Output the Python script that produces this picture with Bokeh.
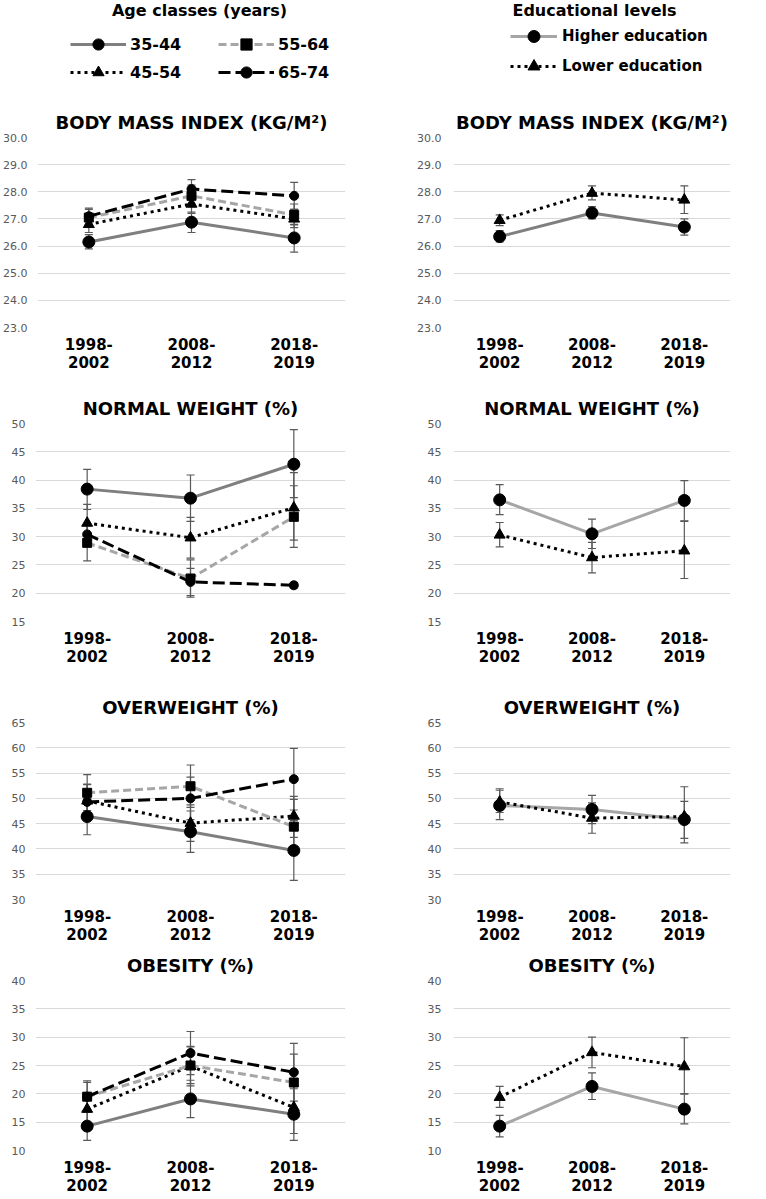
from bokeh.plotting import figure
from bokeh.models import (ColumnDataSource, FactorRange, Range1d, Whisker, TeeHead,
                          FixedTicker, NumeralTickFormatter, Legend, LegendItem, Label)
from bokeh.layouts import column, row
from bokeh.embed import file_html
from bokeh.resources import INLINE

# ---------------- data ----------------
periods = ["1998-\n2002", "2008-\n2012", "2018-\n2019"]
age_classes = ["35-44", "45-54", "55-64", "65-74"]
edu_levels = ["Higher education", "Lower education"]

bmi_ticks = [23, 24, 25, 26, 27, 28, 29, 30]
nw_ticks = [15, 20, 25, 30, 35, 40, 45, 50]
ow_ticks = [30, 35, 40, 45, 50, 55, 60, 65]
ob_ticks = [10, 15, 20, 25, 30, 35, 40]

# Body mass index by age class: value, lower CI, upper CI
bmi_35_44 = [26.15, 26.88, 26.30]
bmi_35_44_lo = [25.90, 26.50, 25.78]
bmi_35_44_hi = [26.42, 27.25, 26.80]
bmi_45_54 = [26.80, 27.55, 27.00]
bmi_45_54_lo = [26.50, 27.20, 26.68]
bmi_45_54_hi = [27.10, 27.90, 27.35]
bmi_55_64 = [27.05, 27.85, 27.15]
bmi_55_64_lo = [26.75, 27.45, 26.78]
bmi_55_64_hi = [27.35, 28.25, 27.55]
bmi_65_74 = [27.10, 28.10, 27.85]
bmi_65_74_lo = [26.80, 27.75, 27.35]
bmi_65_74_hi = [27.40, 28.45, 28.35]

# Body mass index by education
bmi_high = [26.35, 27.22, 26.70]
bmi_high_lo = [26.15, 27.00, 26.40]
bmi_high_hi = [26.57, 27.45, 27.00]
bmi_low = [26.95, 27.95, 27.70]
bmi_low_lo = [26.75, 27.70, 27.20]
bmi_low_hi = [27.15, 28.22, 28.22]

# Normal weight (%) by age class
nw_35_44 = [38.4, 36.8, 42.8]
nw_35_44_lo = [34.8, 32.7, 36.9]
nw_35_44_hi = [41.9, 40.9, 48.9]
nw_45_54 = [32.4, 29.8, 35.1]
nw_45_54_lo = [29.0, 26.2, 29.4]
nw_45_54_hi = [35.7, 33.4, 41.3]
nw_55_64 = [28.9, 22.6, 33.5]
nw_55_64_lo = [25.7, 19.3, 28.1]
nw_55_64_hi = [32.1, 25.9, 39.0]
nw_65_74 = [30.4, 22.0, 21.4]
nw_65_74_lo = [28.5, 19.6, 20.9]
nw_65_74_hi = [32.3, 24.4, 21.9]

# Normal weight (%) by education
nw_high = [36.5, 30.5, 36.4]
nw_high_lo = [33.9, 27.9, 32.8]
nw_high_hi = [39.2, 33.1, 39.9]
nw_low = [30.3, 26.3, 27.5]
nw_low_lo = [28.2, 23.6, 22.6]
nw_low_hi = [32.5, 29.0, 32.7]

# Overweight (%) by age class
ow_35_44 = [46.4, 43.4, 39.7]
ow_35_44_lo = [42.8, 39.3, 33.8]
ow_35_44_hi = [50.0, 47.5, 45.6]
ow_45_54 = [49.5, 45.1, 46.5]
ow_45_54_lo = [46.3, 41.5, 42.3]
ow_45_54_hi = [52.7, 48.7, 50.4]
ow_55_64 = [51.1, 52.4, 44.4]
ow_55_64_lo = [47.6, 48.2, 39.0]
ow_55_64_hi = [54.7, 56.6, 49.8]
ow_65_74 = [49.3, 50.0, 53.8]
ow_65_74_lo = [45.8, 45.8, 47.7]
ow_65_74_hi = [52.8, 54.2, 59.9]

# Overweight (%) by education
ow_high = [48.6, 47.8, 45.8]
ow_high_lo = [45.8, 45.0, 41.2]
ow_high_hi = [51.6, 50.6, 52.3]
ow_low = [49.3, 46.1, 46.4]
ow_low_lo = [47.2, 43.1, 42.1]
ow_low_hi = [51.9, 49.1, 49.4]

# Obesity (%) by age class
ob_35_44 = [14.3, 19.1, 16.4]
ob_35_44_lo = [11.8, 15.8, 11.8]
ob_35_44_hi = [16.8, 22.4, 20.9]
ob_45_54 = [17.3, 24.9, 17.6]
ob_45_54_lo = [14.9, 21.4, 13.0]
ob_45_54_hi = [19.8, 28.4, 22.2]
ob_55_64 = [19.5, 25.0, 22.0]
ob_55_64_lo = [17.0, 21.8, 17.0]
ob_55_64_hi = [22.0, 28.3, 27.0]
ob_65_74 = [19.5, 27.2, 23.8]
ob_65_74_lo = [16.8, 23.4, 18.7]
ob_65_74_hi = [22.3, 31.0, 28.9]

# Obesity (%) by education
ob_high = [14.3, 21.3, 17.3]
ob_high_lo = [12.4, 19.0, 14.7]
ob_high_hi = [16.2, 23.7, 20.0]
ob_low = [19.4, 27.3, 24.8]
ob_low_lo = [17.6, 24.6, 20.0]
ob_low_hi = [21.3, 30.0, 29.9]

# ---------------- styles ----------------
FONT = "DejaVu Sans"
AGE_STYLE = {
    "35-44": dict(color="#7f7f7f", dash="solid", marker="circle", size=12),
    "45-54": dict(color="#000000", dash="3 4", marker="triangle", size=11),
    "55-64": dict(color="#a6a6a6", dash="8 4", marker="square", size=9),
    "65-74": dict(color="#000000", dash="12 5", marker="circle", size=9),
}
EDU_STYLE = {
    "Higher education": dict(color="#a6a6a6", dash="solid", marker="circle", size=12),
    "Lower education": dict(color="#000000", dash="3 4", marker="triangle", size=11),
}
EDU_STYLE_BMI = dict(EDU_STYLE)
EDU_STYLE_BMI["Higher education"] = dict(EDU_STYLE["Higher education"], color="#7f7f7f")

COL_W = 383
LEFT_GEOM = dict(min_left=35, min_right=38, label_standoff=10)
RIGHT_GEOM = dict(min_left=70, min_right=36, label_standoff=12)
NAN = float("nan")


def panel(title, ticks, fmt, series, styles, geom, top, frame_h, bottom):
    p = figure(x_range=FactorRange(factors=periods),
               y_range=Range1d(ticks[0], ticks[-1]),
               width=COL_W, height=top + frame_h + bottom,
               output_backend="svg", toolbar_location=None, title=title,
               min_border_left=geom["min_left"], min_border_right=geom["min_right"],
               min_border_top=top, min_border_bottom=bottom)
    p.title.text_font = FONT
    p.title.text_font_size = "18px"
    p.title.text_font_style = "bold"
    p.title.align = "center"
    p.title.text_color = "#000000"
    p.title.standoff = 10
    p.outline_line_color = None
    p.xgrid.visible = False
    p.ygrid.grid_line_color = "#d9d9d9"
    p.ygrid.grid_line_width = 1

    p.yaxis.ticker = FixedTicker(ticks=ticks)
    p.yaxis.formatter = NumeralTickFormatter(format=fmt)
    p.yaxis.axis_line_color = None
    p.yaxis.major_tick_line_color = None
    p.yaxis.minor_tick_line_color = None
    p.yaxis.major_tick_out = 0
    p.yaxis.major_label_text_font = FONT
    p.yaxis.major_label_text_font_size = "11px"
    p.yaxis.major_label_text_color = "#595959"
    p.yaxis.major_label_standoff = geom["label_standoff"]

    p.xaxis.axis_line_color = None
    p.xaxis.major_tick_line_color = None
    p.xaxis.minor_tick_line_color = None
    p.xaxis.major_tick_out = 0
    p.xaxis.major_tick_in = 0
    p.xaxis.major_label_text_font = FONT
    p.xaxis.major_label_text_font_size = "15px"
    p.xaxis.major_label_text_font_style = "bold"
    p.xaxis.major_label_text_color = "#000000"
    p.xaxis.major_label_text_line_height = 1.0
    p.xaxis.major_label_standoff = 8

    for name, (vals, lo, hi) in series.items():
        st = styles[name]
        src = ColumnDataSource(dict(x=periods, y=vals, lo=lo, hi=hi))
        w = Whisker(base="x", lower="lo", upper="hi", source=src,
                    line_color="#595959", line_width=1.2,
                    upper_head=TeeHead(size=8, line_color="#595959", line_width=1.2),
                    lower_head=TeeHead(size=8, line_color="#595959", line_width=1.2))
        p.add_layout(w)
        p.line("x", "y", source=src, line_color=st["color"], line_dash=st["dash"],
               line_width=3)
        p.scatter("x", "y", source=src, marker=st["marker"], size=st["size"],
                  fill_color="#000000", line_color="#000000")
    return p


def legend_fig(heading, names, styles, height, heading_x, loc, ncols,
               glyph_w, glyph_h, label_w, font_size, standoff):
    p = figure(width=COL_W, height=height, x_range=Range1d(0, 1), y_range=Range1d(0, 1),
               output_backend="svg", toolbar_location=None,
               x_axis_location=None, y_axis_location=None, min_border=0)
    p.grid.visible = False
    p.outline_line_color = None
    items = []
    for name in names:
        st = styles[name]
        # placeholder renderers (one undrawable NaN point) that only feed the legend
        src = ColumnDataSource(dict(x=[NAN], y=[NAN]))
        r1 = p.line("x", "y", source=src, line_color=st["color"], line_dash=st["dash"],
                    line_width=3)
        r2 = p.scatter("x", "y", source=src, marker=st["marker"],
                       fill_color="#000000", line_color="#000000")
        items.append(LegendItem(label=name, renderers=[r1, r2]))
    leg = Legend(items=items, location=loc, ncols=ncols, orientation="vertical",
                 glyph_width=glyph_w, glyph_height=glyph_h, label_width=label_w,
                 label_height=18, label_standoff=standoff, spacing=0, padding=0, margin=0,
                 border_line_color=None, background_fill_alpha=0,
                 label_text_font=FONT, label_text_font_size=font_size,
                 label_text_font_style="bold", label_text_color="#000000")
    p.add_layout(leg)
    p.add_layout(Label(x=heading_x, y=height, x_units="screen", y_units="screen",
                       text=heading, text_align="center", text_baseline="top",
                       text_font=FONT, text_font_size="16px", text_font_style="bold",
                       text_color="#000000"))
    return p


LEG_H = 100
leg_left = legend_fig("Age classes (years)", age_classes, AGE_STYLE, LEG_H,
                      199, (70, 14), 2, 56, 28, 88, "16px", 4)
leg_right = legend_fig("Educational levels", edu_levels, EDU_STYLE, LEG_H,
                       211, (127, 19), 1, 47, 30, 150, "15px", 5)

rows_spec = [
    ("BODY MASS INDEX (KG/M²)", bmi_ticks, "0.0",
     {"35-44": (bmi_35_44, bmi_35_44_lo, bmi_35_44_hi),
      "45-54": (bmi_45_54, bmi_45_54_lo, bmi_45_54_hi),
      "55-64": (bmi_55_64, bmi_55_64_lo, bmi_55_64_hi),
      "65-74": (bmi_65_74, bmi_65_74_lo, bmi_65_74_hi)},
     {"Higher education": (bmi_high, bmi_high_lo, bmi_high_hi),
      "Lower education": (bmi_low, bmi_low_lo, bmi_low_hi)},
     EDU_STYLE_BMI, 37, 190, 48),
    ("NORMAL WEIGHT (%)", nw_ticks, "0",
     {"35-44": (nw_35_44, nw_35_44_lo, nw_35_44_hi),
      "45-54": (nw_45_54, nw_45_54_lo, nw_45_54_hi),
      "55-64": (nw_55_64, nw_55_64_lo, nw_55_64_hi),
      "65-74": (nw_65_74, nw_65_74_lo, nw_65_74_hi)},
     {"Higher education": (nw_high, nw_high_lo, nw_high_hi),
      "Lower education": (nw_low, nw_low_lo, nw_low_hi)},
     EDU_STYLE, 48, 198, 48),
    ("OVERWEIGHT (%)", ow_ticks, "0",
     {"35-44": (ow_35_44, ow_35_44_lo, ow_35_44_hi),
      "45-54": (ow_45_54, ow_45_54_lo, ow_45_54_hi),
      "55-64": (ow_55_64, ow_55_64_lo, ow_55_64_hi),
      "65-74": (ow_65_74, ow_65_74_lo, ow_65_74_hi)},
     {"Higher education": (ow_high, ow_high_lo, ow_high_hi),
      "Lower education": (ow_low, ow_low_lo, ow_low_hi)},
     EDU_STYLE, 53, 177, 48),
    ("OBESITY (%)", ob_ticks, "0",
     {"35-44": (ob_35_44, ob_35_44_lo, ob_35_44_hi),
      "45-54": (ob_45_54, ob_45_54_lo, ob_45_54_hi),
      "55-64": (ob_55_64, ob_55_64_lo, ob_55_64_hi),
      "65-74": (ob_65_74, ob_65_74_lo, ob_65_74_hi)},
     {"Higher education": (ob_high, ob_high_lo, ob_high_hi),
      "Lower education": (ob_low, ob_low_lo, ob_low_hi)},
     EDU_STYLE, 32, 172, 46),
]

rows = [row(leg_left, leg_right, spacing=0)]
for title, ticks, fmt, age_series, edu_series, edu_style, top, fh, bottom in rows_spec:
    left = panel(title, ticks, fmt, age_series, AGE_STYLE, LEFT_GEOM, top, fh, bottom)
    right = panel(title, ticks, fmt, edu_series, edu_style, RIGHT_GEOM, top, fh, bottom)
    rows.append(row(left, right, spacing=0))

layout = column(*rows, spacing=0)

open("out.html", "w").write(file_html(layout, INLINE))
